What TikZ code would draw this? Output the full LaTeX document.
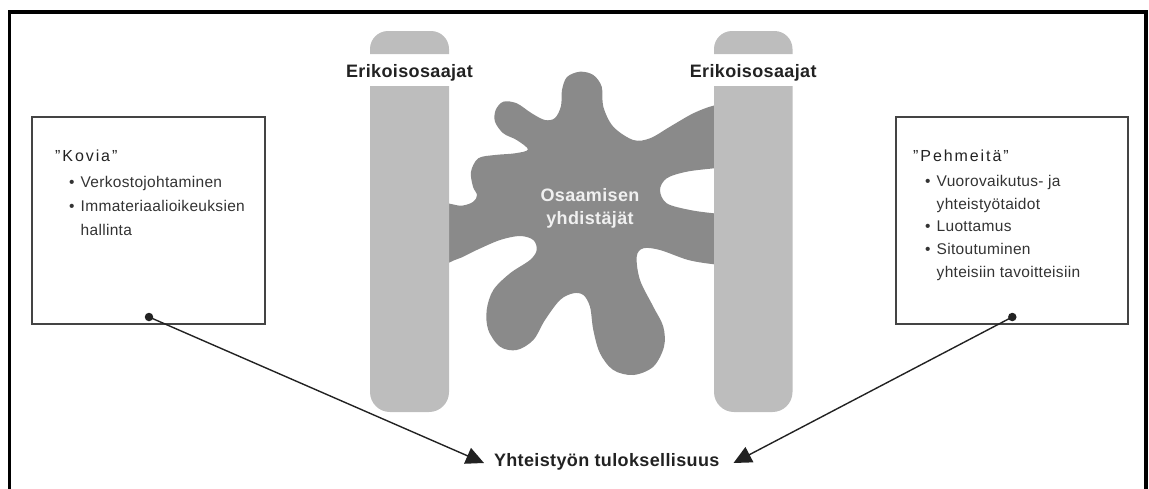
\documentclass[tikz,border=0pt]{standalone}
\usepackage{fontspec}
\setmainfont{Liberation Sans}
\newfontfamily\hdfont[LetterSpace=12]{Liberation Sans}
\newfontfamily\txfont[LetterSpace=2]{Liberation Sans}
\newfontfamily\bdfont[LetterSpace=2]{Liberation Sans}
\usetikzlibrary{arrows.meta}
\definecolor{txt}{HTML}{222222}
\definecolor{itemtxt}{HTML}{333333}
\definecolor{tubegray}{HTML}{BDBDBD}
\definecolor{blobgray}{HTML}{8A8A8A}
\definecolor{boxgray}{HTML}{444444}
\definecolor{blobtxt}{HTML}{F0F0F0}
\begin{document}
\begin{tikzpicture}[x=1pt,y=-1pt,
  every node/.style={inner sep=0pt},
  tubefill/.style={fill=tubegray},
  blobfill/.style={fill=blobgray},
  boxframe/.style={draw=boxgray, line width=2pt},
  boldlbl/.style={font=\bdfont\bfseries\fontsize{18}{21}\selectfont, text=txt},
  blobtext/.style={font=\bdfont\bfseries\fontsize{18}{21}\selectfont, text=blobtxt},
  itemtext/.style={anchor=west, font=\txfont\fontsize{15.5}{18}\selectfont, text=itemtxt, text height=11pt, text depth=3pt},
  headtext/.style={anchor=west, font=\hdfont\fontsize{16}{18}\selectfont, text=txt, text height=11pt, text depth=3pt},
  conn/.style={draw=txt, line width=1.4pt, -{Triangle[length=18pt,width=17pt]}},
  dotmark/.style={circle, fill=txt, minimum size=8.5pt}
]
\useasboundingbox (0,0) rectangle (1149,488);
\clip (0,0) rectangle (1149,488);

% outer frame (open at the bottom)
\draw[line width=3.6pt, black] (9.6,500) -- (9.6,11.8) -- (1146,11.8) -- (1146,500);

% blob
\fill[blobfill] plot[smooth cycle, tension=0.55] coordinates {
 (436,207) (461.7,205.7) (473.3,201.7) (477,195) (473,186.7) (471,171.7)
 (478.3,158.3) (495,155) (515,153.3) (528,149.5) (516.7,140) (503.3,133.3)
 (495,121.7) (495.7,110) (503.3,101.7) (516.7,103.3) (531.7,113.3) (545,120)
 (555,118) (561,106) (562,90) (567,77) (580,71.7) (593.3,75) (601.7,86.7)
 (603.3,106.7) (613.3,126.7) (633.3,140) (650,138.3) (670,126.7) (693.3,113.3)
 (714,105.5) (728,105) (728,167) (714,168.3) (686.7,171.7) (666.7,178.3)
 (660,190) (666.7,203.3) (690,210) (714,213.3) (728,214) (728,265)
 (714,264.3) (688.3,260) (660,250) (643.3,248.3) (636.7,256.7) (640,280)
 (653.3,306.7) (663.3,326.7) (664,346.7) (653.3,366.7) (633.3,375) (613.3,370)
 (600,353.3) (593.3,330) (590,306.7) (583.3,295) (573.3,293.3) (560,300)
 (545,320) (533.3,340) (516.7,350) (500,346.7) (488.3,330) (486.7,310)
 (493.3,290) (510,273.3) (530,260) (536.7,250) (533.3,240) (520,236)
 (500,240) (476.7,250) (456.7,259.3) (436,262)};
\node[blobtext] (blobA) at (590,195) {Osaamisen};
\node[blobtext] (blobB) at (590,219.5) {yhdistäjät};

% tubes
\foreach \xl/\xr in {370/449, 714/792.5} {
  \fill[tubefill] (\xl,54) [rounded corners=18pt] -- (\xl,31) -- (\xr,31) [sharp corners] -- (\xr,54) -- cycle;
  \fill[tubefill] (\xl,86) [rounded corners=20pt] -- (\xl,412) -- (\xr,412) [sharp corners] -- (\xr,86) -- cycle;
}
\node[boldlbl] (specL) at (409.5,72.7) {Erikoisosaajat};
\node[boldlbl] (specR) at (753.2,72.7) {Erikoisosaajat};

% left box
\draw[boxframe] (32.3,117.3) rectangle (265,324);
\node[headtext] (hardH) at (55,157) {”Kovia”};
\node[itemtext] (hardB1) at (69,183.5) {•};
\node[itemtext] (hardT1) at (80.5,183.5) {Verkostojohtaminen};
\node[itemtext] (hardB2) at (69,207.5) {•};
\node[itemtext] (hardT2) at (80.5,207.5) {Immateriaalioikeuksien};
\node[itemtext] (hardT3) at (80.5,231.5) {hallinta};

% right box
\draw[boxframe] (895.7,117.3) rectangle (1128.3,324);
\node[headtext] (softH) at (913,157.5) {”Pehmeitä”};
\node[itemtext] (softB1) at (925,182.5) {•};
\node[itemtext] (softT1) at (936.5,182.5) {Vuorovaikutus- ja};
\node[itemtext] (softT2) at (936.5,205) {yhteistyötaidot};
\node[itemtext] (softB3) at (925,227.5) {•};
\node[itemtext] (softT3) at (936.5,227.5) {Luottamus};
\node[itemtext] (softB4) at (925,250.5) {•};
\node[itemtext] (softT4) at (936.5,250.5) {Sitoutuminen};
\node[itemtext] (softT5) at (936.5,273.5) {yhteisiin tavoitteisiin};

% result
\node[boldlbl] (result) at (606.7,462) {Yhteistyön tuloksellisuus};
\coordinate (tipL) at (484,463);
\coordinate (tipR) at (733.5,463);

\node[dotmark] (dotL) at (149,317) {};
\node[dotmark] (dotR) at (1012.3,317) {};
\draw[conn] (dotL.center) -- (tipL);
\draw[conn] (dotR.center) -- (tipR);
\end{tikzpicture}
\end{document}
